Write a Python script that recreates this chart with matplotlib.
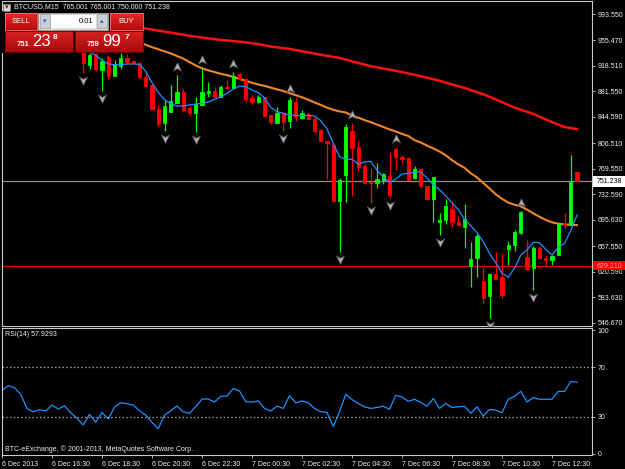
import numpy as np
import matplotlib
matplotlib.use('Agg')
import matplotlib.pyplot as plt
from matplotlib.path import Path
from matplotlib.patches import Rectangle
from matplotlib.transforms import offset_copy
from matplotlib.colors import LinearSegmentedColormap

plt.rcParams['font.family'] = 'Liberation Sans'

# BTCUSD M15 candles, 6 Dec 14:30 .. 7 Dec 13:30 (first 13 sit under the trade panel)
opens = [962, 965, 972, 969, 960, 953, 949, 951, 946, 950, 947, 951, 946,
         944, 919.7, 935.6, 912.5, 930.8, 904.3, 918.3, 929.4, 926.0, 923.1,
         902.8, 890.8, 856.0, 835.3, 852.2, 865.2, 881.1, 857.0, 850.7, 861.8,
         878.7, 882.1, 873.9, 888.3, 885.9, 906.7, 899.4, 871.5, 865.7, 872.9,
         847.3, 836.2, 850.7, 838.6, 866.6, 843.5, 848.8, 841.5, 825.6, 810.2,
         803.9, 722.8, 760.5, 824.6, 801.5, 773.5, 750.8, 748.4, 753.2, 759.0,
         798.1, 786.0, 785.6, 755.6, 768.7, 745.0, 725.2, 692.9, 695.3, 710.8,
         692.9, 684.7, 629.2, 640.8, 607.5, 585.3, 616.6, 612.3, 653.3, 659.1,
         677.0, 642.2, 625.3, 654.3, 639.8, 637.4, 644.6, 691.4, 688.1, 765.001]
highs = [968, 975, 976, 971, 963, 957, 954, 953, 952, 954, 952, 953, 950,
         946, 937.6, 936.6, 929.4, 934.2, 926.9, 936.6, 935.6, 926.5, 924.5,
         907.6, 893.2, 861.8, 869.0, 890.8, 905.2, 884.5, 860.4, 872.9, 914.9,
         895.6, 887.4, 890.8, 898.0, 910.1, 908.6, 900.4, 876.3, 876.3, 873.9,
         847.3, 859.4, 852.2, 872.9, 873.9, 854.6, 852.2, 844.0, 826.6, 810.2,
         806.3, 755.6, 833.8, 835.3, 809.7, 777.3, 770.1, 777.3, 763.8, 794.2,
         801.5, 789.4, 785.6, 774.0, 770.1, 745.0, 758.0, 704.9, 725.7, 721.8,
         702.5, 718.5, 663.0, 675.0, 626.3, 618.1, 649.5, 646.1, 664.9, 680.8,
         708.0, 666.3, 658.1, 658.1, 644.6, 644.6, 691.4, 705.9, 789.4, 765.001]
lows = [958, 962, 966, 958, 951, 946, 944, 944, 943, 945, 943, 944, 941,
        907.6, 914.4, 911.5, 882.6, 899.9, 904.3, 913.4, 921.2, 921.5, 899.0,
        889.8, 854.6, 831.4, 824.6, 852.2, 864.2, 852.2, 845.9, 823.2, 861.8,
        873.9, 872.9, 872.9, 885.0, 885.9, 898.0, 866.6, 863.2, 864.2, 845.9,
        834.3, 835.3, 824.6, 829.0, 839.1, 841.5, 841.1, 821.7, 809.7, 754.2,
        722.8, 649.5, 721.8, 730.5, 766.3, 749.4, 719.4, 742.1, 747.4, 726.7,
        767.7, 776.4, 753.2, 754.2, 741.2, 724.3, 692.9, 673.6, 689.5, 684.7,
        688.1, 654.3, 597.8, 612.3, 574.7, 553.0, 609.4, 581.9, 630.1, 650.4,
        674.6, 622.9, 594.0, 638.8, 628.7, 630.1, 644.6, 683.2, 688.1, 750.0]
closes = [965, 972, 969, 960, 953, 949, 951, 946, 950, 947, 951, 946, 944,
          923.1, 934.2, 913.4, 926.0, 903.8, 921.2, 929.4, 924.5, 922.1, 902.8,
          889.8, 855.5, 833.8, 860.4, 868.1, 880.6, 854.6, 849.7, 863.2, 881.1,
          882.6, 872.9, 887.4, 885.9, 904.3, 899.0, 870.0, 866.6, 872.9, 845.9,
          836.7, 850.7, 837.7, 869.0, 844.9, 849.7, 841.1, 824.6, 809.7, 807.3,
          722.8, 753.2, 829.5, 800.0, 772.5, 749.4, 748.4, 754.7, 761.9, 731.5,
          786.0, 784.1, 753.2, 769.2, 745.0, 725.2, 758.0, 695.3, 716.1, 692.9,
          688.1, 696.3, 638.8, 672.6, 582.9, 616.6, 609.4, 586.7, 659.1, 677.4,
          706.9, 624.4, 654.3, 639.8, 637.4, 643.7, 689.5, 688.1, 749.8, 751.238]

# fractal arrows (bar numbers)
fractal_up = [28, 32, 37, 46, 56, 63, 83]
fractal_down = [13, 16, 26, 31, 45, 54, 59, 62, 70, 78, 85]

# moving averages
blue_start = 13
blue_ma = [944, 939, 933.7, 926.5, 921.5, 920.0, 920.0, 921.2, 921.2, 920.7,
           910.5, 894, 880, 869.5, 863.7, 860.4, 860.4, 862, 863.2, 864.2,
           866.1, 870.0, 873.4, 878.7, 885.0, 889.3, 888.3, 883.5, 879.7, 872.1,
           858.4, 852.2, 849.7, 847.3, 846.8, 846.4, 846.8, 845.9, 839.1, 827.3,
           806.3, 787.0, 783.2, 783.2, 776.4, 779.3, 780.2, 767.2, 758.0, 749.8,
           754.7, 761.9, 762.9, 764.8, 764.8, 756.1, 746.5, 739.2, 730.5, 720.2,
           710.5, 696.3, 687.1, 677.0, 663.9, 647.0, 633.5, 618.6, 612.3, 625.3,
           644.6, 651.9, 663.0, 662.5, 652.8, 644.6, 655.7, 661.5, 679.9, 702.5]
orange_start = 20
orange_ma = [960, 956, 952.5, 949, 945.5, 942.5, 939.5, 936.5, 932.7, 929,
             924, 919, 915, 912, 909.5, 907, 905, 902.5, 899.5, 897,
             894, 891.5, 889.5, 887, 884.5, 882, 879, 876, 873, 869.5,
             865.5, 862, 858, 855, 852.5, 851, 846.5, 843.5, 840, 837,
             833.5, 830, 826.5, 823.5, 820, 817, 811, 807.5, 803, 799,
             794.5, 789, 782, 776, 771, 763, 757, 749, 741, 732.5,
             726, 720.5, 717.5, 715, 710.5, 705, 700, 695.5, 692, 690,
             689, 688.5, 688]
red_bars = [20, 22, 24, 26, 28, 30, 32, 35, 38, 41, 43, 46, 49, 51, 54, 56,
            59, 62, 64, 67, 70, 72, 74, 77, 80, 82, 85, 88, 90, 92]
red_ma = [977, 974, 971, 968, 965, 962, 959.5, 956, 953.5, 950, 946.5, 943,
          938, 934.5, 930, 925, 918, 913, 909.5, 903.5, 897, 891.5, 886.5,
          877.5, 866, 858, 849, 837, 830, 827]

rsi = [51.3, 55.1, 53.5, 48.1, 36.7, 34.0, 35.7, 34.6, 39.4, 36.2, 38.9, 33.2,
       28.7, 23.3, 31.9, 25.4, 33.5, 28.1, 37.8, 41.3, 40.5, 39.4, 34.9, 31.3,
       25.4, 20.3, 31.3, 34.9, 38.6, 34.0, 32.7, 38.1, 44.3, 44.3, 41.9, 46.5,
       46.7, 52.9, 50.8, 42.1, 41.9, 42.7, 36.7, 34.6, 38.6, 36.7, 47.0, 41.2,
       42.8, 41.2, 36.7, 34.0, 33.5, 22.0, 34.0, 48.1, 43.9, 40.7, 38.0, 36.7,
       37.5, 38.5, 35.9, 47.3, 46.0, 42.5, 44.1, 41.5, 38.5, 44.7, 36.7, 40.7,
       37.5, 38.0, 38.5, 32.7, 38.0, 30.5, 35.9, 35.3, 33.2, 44.1, 46.5, 50.5,
       42.0, 45.5, 44.1, 44.1, 44.1, 50.5, 50.5, 58.5, 57.93]

price_ticks = [993.55, 955.47, 918.51, 881.55, 844.59, 806.51, 769.55,
               732.59, 695.63, 657.55, 620.59, 583.63, 546.67]
time_ticks = [0, 8, 16, 24, 32, 40, 48, 56, 64, 72, 80, 88]
time_labels = ['6 Dec 2013', '6 Dec 16:30', '6 Dec 18:30', '6 Dec 20:30',
               '6 Dec 22:30', '7 Dec 00:30', '7 Dec 02:30', '7 Dec 04:30',
               '7 Dec 06:30', '7 Dec 08:30', '7 Dec 10:30', '7 Dec 12:30']
bid = 751.238
alert = 629.21

W, H = 625, 469
fig = plt.figure(figsize=(W / 100, H / 100), dpi=100, facecolor='black')


def px_axes(x0, y0, x1, y1):
    return fig.add_axes([x0 / W, 1 - y1 / H, (x1 - x0) / W, (y1 - y0) / H])


frame = '#c8c8c8'
txt = '#f0f0f0'

ax = px_axes(2, 1, 592, 326)
ax_rsi = px_axes(2, 328, 592, 455)
for a in (ax, ax_rsi):
    a.set_facecolor('black')
    a.set_xlim(0, 94.4)
    for s in a.spines.values():
        s.set_color(frame)
        s.set_linewidth(0.8)
    a.yaxis.tick_right()
    a.tick_params(axis='y', colors=frame, labelcolor=txt, length=2.5,
                  width=0.6, labelsize=5, pad=1.5)

ax.set_ylim(541.9, 1012.37)
ax.set_xticks([])
ax.set_yticks(price_ticks)
ax.set_yticklabels(['%.3f' % v for v in price_ticks])

o = np.array(opens)
h = np.array(highs)
l = np.array(lows)
c = np.array(closes)
xs = np.arange(len(o))
cols = np.where(c >= o, '#00ff00', '#ff0000')

ax.axhline(bid, color='#8c8c8c', lw=0.9, zorder=1)
ax.axhline(alert, color='#d80000', lw=1.0, zorder=1)
ax.plot(red_bars, red_ma, color='#ff1010', lw=1.8, zorder=2)
ax.plot(np.arange(orange_start, orange_start + len(orange_ma)), orange_ma,
        color='#f0862a', lw=1.5, zorder=2)
ax.vlines(xs, l, h, colors=cols, lw=0.9, zorder=3)
ax.bar(xs, np.abs(c - o), bottom=np.minimum(o, c), width=0.55, color=cols,
       edgecolor=cols, lw=0.6, zorder=4)
ax.plot(np.arange(blue_start, blue_start + len(blue_ma)), blue_ma,
        color='#1e90ff', lw=0.9, zorder=5)

# fractal arrows
dn = Path([(0, -1), (-0.85, 0.75), (0, 0.25), (0.85, 0.75), (0, -1)],
          [Path.MOVETO, Path.LINETO, Path.LINETO, Path.LINETO, Path.CLOSEPOLY])
up = Path([(0, 1), (-0.85, -0.75), (0, -0.25), (0.85, -0.75), (0, 1)],
          [Path.MOVETO, Path.LINETO, Path.LINETO, Path.LINETO, Path.CLOSEPOLY])
ax.plot(fractal_down, l[fractal_down], ls='none', marker=dn, ms=7,
        mfc='#b0b0b0', mec='#505050', mew=0.5, zorder=6,
        transform=offset_copy(ax.transData, fig, y=-7, units='dots'))
ax.plot(fractal_up, h[fractal_up], ls='none', marker=up, ms=7,
        mfc='#b0b0b0', mec='#505050', mew=0.5, zorder=6,
        transform=offset_copy(ax.transData, fig, y=8, units='dots'))

# RSI window
ax_rsi.set_ylim(-1, 101.8)
ax_rsi.set_yticks([100, 70, 30, 0])
ax_rsi.plot(xs, rsi, color='#1e90ff', lw=0.9)
for lvl in (70, 30):
    ax_rsi.axhline(lvl, color='#a0a0a0', lw=0.9, ls=(0, (1.2, 1.8)))
ax_rsi.set_xticks(time_ticks)
ax_rsi.set_xticklabels(time_labels)
ax_rsi.tick_params(axis='x', colors=frame, labelcolor=txt, length=2.5,
                   width=0.6, labelsize=5, pad=1.5)
for lab in ax_rsi.get_xticklabels():
    lab.set_ha('left')

# overlay in pixel coordinates: title, trade panel, price boxes
ov = fig.add_axes([0, 0, 1, 1], zorder=10)
ov.set_xlim(0, W)
ov.set_ylim(H, 0)
ov.axis('off')


def grad_box(x0, y0, w, hh, top, bottom, edge=None):
    cmap = LinearSegmentedColormap.from_list('g', [top, bottom])
    ov.imshow(np.linspace(0, 1, 32).reshape(-1, 1), cmap=cmap, aspect='auto',
              extent=(x0, x0 + w, y0 + hh, y0), zorder=2)
    if edge:
        ov.add_patch(Rectangle((x0, y0), w, hh, fill=False, ec=edge, lw=0.6,
                               zorder=3))


# black backing that hides the chart under the trade panel
ov.add_patch(Rectangle((2.4, 11.5), 141.7, 41.5, fc='black', ec='none', zorder=1))

ov.add_patch(Rectangle((3, 4), 7, 7, fc='#d8d8d8', ec='#808080', lw=0.5))
ov.text(6.5, 7.5, '▾', color='#303030', fontsize=5, ha='center', va='center',
        family='DejaVu Sans')
ov.text(14, 7, 'BTCUSD,M15  765.001 765.001 750.000 751.238', color=txt,
        fontsize=5, va='center')

red_top, red_bot = '#e42a2a', '#b40c0c'
grad_box(5, 13, 32, 17, red_top, red_bot, edge='#ff7070')
grad_box(110, 13, 33, 17, red_top, red_bot, edge='#ff7070')
ov.add_patch(Rectangle((38, 13), 70, 17, fc='#dcdcdc', ec='#9a9a9a', lw=0.6,
                       zorder=2))
ov.add_patch(Rectangle((39.5, 14.5), 10, 14, fc='#c8d0dc', ec='#a0a0a0',
                       lw=0.5, zorder=3))
ov.add_patch(Rectangle((96.5, 14.5), 10, 14, fc='#c8d0dc', ec='#a0a0a0',
                       lw=0.5, zorder=3))
ov.add_patch(Rectangle((51, 15), 44.5, 13, fc='white', ec='none', zorder=3))
ov.text(44.5, 21.5, '▾', color='#3060a0', fontsize=5, ha='center',
        va='center', family='DejaVu Sans', zorder=4)
ov.text(101.5, 21.5, '▴', color='#3060a0', fontsize=5, ha='center',
        va='center', family='DejaVu Sans', zorder=4)
ov.text(93, 21.5, '0.01', color='black', fontsize=5.5, ha='right',
        va='center', zorder=4)
ov.text(21, 21.5, 'SELL', color='white', fontsize=5.5, ha='center',
        va='center', zorder=4)
ov.text(126.5, 21.5, 'BUY', color='white', fontsize=5.5, ha='center',
        va='center', zorder=4)

grad_box(5, 31, 68, 21, '#d82020', '#a80a0a', edge='#7a0000')
grad_box(74.5, 31, 68.5, 21, '#d82020', '#a80a0a', edge='#7a0000')
for x_small, x_big, x_sup, small, big, sup in [(23.5, 41, 55.5, '751', '23', '8'),
                                               (93, 112, 126.5, '759', '99', '7')]:
    ov.text(x_small, 44, small, color='white', fontsize=5.5, weight='bold',
            ha='center', va='center', zorder=4)
    ov.text(x_big, 41.5, big, color='white', fontsize=12, ha='center',
            va='center', zorder=4)
    ov.text(x_sup, 37.5, sup, color='white', fontsize=6, weight='bold',
            ha='center', va='center', zorder=4)

# price boxes on the right scale
ov.add_patch(Rectangle((593, 176), 32, 11, fc='white', ec='none', zorder=5))
ov.text(596.5, 181.5, '%.3f' % bid, color='black', fontsize=5, va='center',
        zorder=6)
ov.add_patch(Rectangle((593, 261.5), 32, 9, fc='#ff0000', ec='none', zorder=5))
ov.text(596.5, 266, '%.3f' % alert, color='#ffb0b0', fontsize=5, va='center',
        zorder=6)

ov.text(5, 335, 'RSI(14) 57.9293', color=txt, fontsize=5, va='center')
ov.text(5, 449, 'BTC-eExchange, © 2001-2013, MetaQuotes Software Corp.',
        color=txt, fontsize=5, va='center')
ov.set_xlim(0, W)
ov.set_ylim(H, 0)

fig.savefig('out.png', dpi=100, facecolor='black')
plt.close(fig)
